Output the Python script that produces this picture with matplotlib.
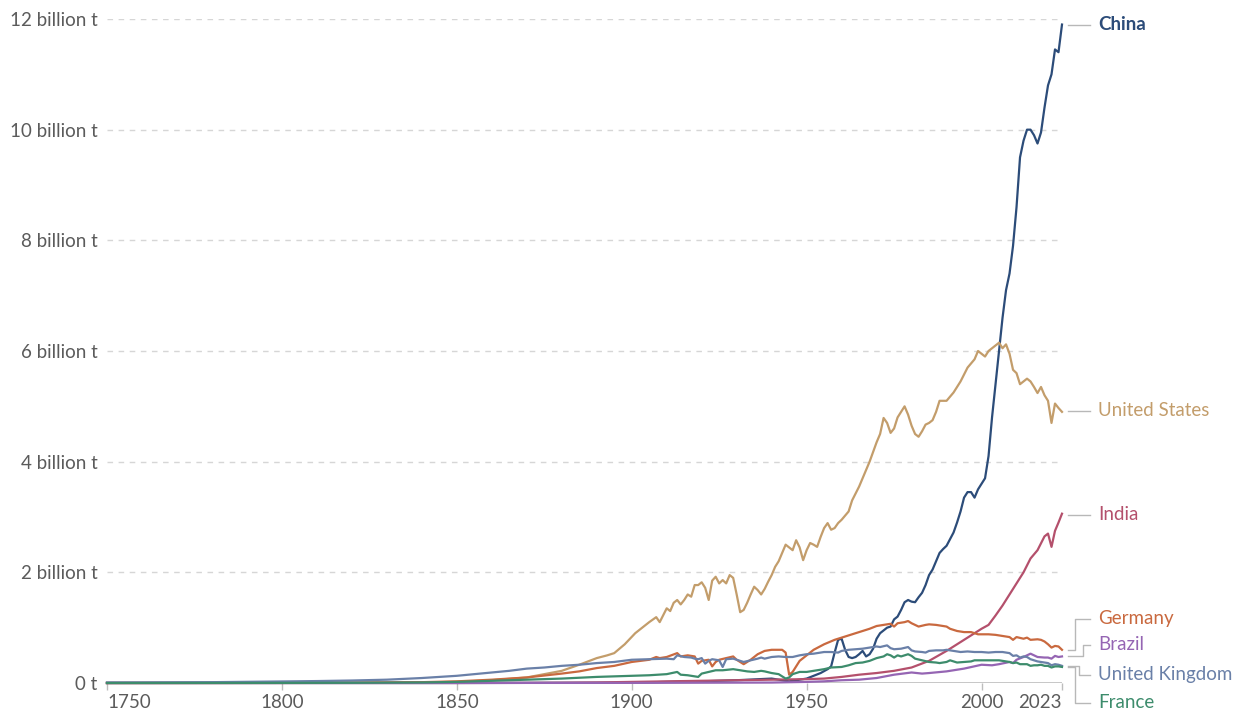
import matplotlib
matplotlib.use("Agg")
import matplotlib.pyplot as plt
import matplotlib.transforms as mtransforms

plt.rcParams['font.family'] = ['Lato', 'DejaVu Sans']

# --- data (billion tonnes CO2 per year) ---
china_years = [1750, 1850, 1900, 1910, 1920, 1930, 1940, 1945, 1950, 1952, 1954, 1956, 1957, 1958, 1959,
               1960, 1961, 1962, 1963, 1964, 1965, 1966, 1967, 1968, 1969, 1970, 1971, 1972, 1973, 1974,
               1975, 1976, 1977, 1978, 1979, 1980, 1981, 1982, 1983, 1984, 1985, 1986, 1987, 1988, 1989,
               1990, 1991, 1992, 1993, 1994, 1995, 1996, 1997, 1998, 1999, 2000, 2001, 2002, 2003, 2004,
               2005, 2006, 2007, 2008, 2009, 2010, 2011, 2012, 2013, 2014, 2015, 2016, 2017, 2018, 2019,
               2020, 2021, 2022, 2023]
china = [0, 0, 0.005, 0.02, 0.03, 0.05, 0.08, 0.03, 0.08, 0.13, 0.18, 0.25, 0.3, 0.55, 0.78,
         0.8, 0.6, 0.47, 0.45, 0.47, 0.52, 0.58, 0.48, 0.52, 0.62, 0.8, 0.9, 0.95, 1.0, 1.02,
         1.15, 1.2, 1.32, 1.46, 1.5, 1.47, 1.46, 1.55, 1.63, 1.77, 1.95, 2.05, 2.2, 2.35, 2.42,
         2.48, 2.6, 2.72, 2.9, 3.1, 3.35, 3.45, 3.45, 3.35, 3.5, 3.6, 3.7, 4.1, 4.8, 5.4,
         6.0, 6.6, 7.1, 7.4, 7.9, 8.6, 9.5, 9.8, 10.0, 10.0, 9.9, 9.75, 9.95, 10.4, 10.8,
         11.0, 11.45, 11.4, 11.9]

us_years = [1750, 1800, 1830, 1850, 1860, 1870, 1880, 1885, 1890, 1893, 1895, 1898, 1901, 1903, 1905,
            1907, 1908, 1910, 1911, 1912, 1913, 1914, 1915, 1916, 1917, 1918, 1919, 1920, 1921, 1922,
            1923, 1924, 1925, 1926, 1927, 1928, 1929, 1930, 1931, 1932, 1933, 1934, 1935, 1936, 1937,
            1938, 1939, 1940, 1941, 1942, 1943, 1944, 1945, 1946, 1947, 1948, 1949, 1950, 1951, 1952,
            1953, 1954, 1955, 1956, 1957, 1958, 1959, 1960, 1962, 1963, 1965, 1967, 1968, 1970, 1971,
            1972, 1973, 1974, 1975, 1976, 1977, 1978, 1979, 1980, 1981, 1982, 1983, 1984, 1985, 1986,
            1987, 1988, 1989, 1990, 1992, 1994, 1996, 1998, 1999, 2000, 2001, 2002, 2003, 2004, 2005,
            2006, 2007, 2008, 2009, 2010, 2011, 2012, 2013, 2014, 2015, 2016, 2017, 2018, 2019, 2020,
            2021, 2022, 2023]
us = [0, 0.001, 0.005, 0.02, 0.05, 0.1, 0.22, 0.33, 0.45, 0.5, 0.54, 0.7, 0.9, 1.0, 1.1,
      1.19, 1.1, 1.35, 1.3, 1.45, 1.5, 1.42, 1.5, 1.6, 1.56, 1.77, 1.77, 1.82, 1.72, 1.5,
      1.85, 1.92, 1.8, 1.86, 1.8, 1.95, 1.9, 1.6, 1.28, 1.32, 1.45, 1.6, 1.74, 1.68, 1.6,
      1.7, 1.83, 1.95, 2.1, 2.2, 2.35, 2.5, 2.45, 2.4, 2.58, 2.45, 2.22, 2.4, 2.53, 2.5,
      2.46, 2.64, 2.8, 2.89, 2.77, 2.8, 2.89, 2.95, 3.1, 3.3, 3.55, 3.85, 4.0, 4.35, 4.5,
      4.79, 4.7, 4.52, 4.6, 4.8, 4.9, 5.0, 4.85, 4.65, 4.5, 4.45, 4.55, 4.67, 4.7, 4.75,
      4.9, 5.1, 5.1, 5.1, 5.25, 5.45, 5.7, 5.85, 6.0, 5.95, 5.9, 6.0, 6.05, 6.1, 6.15,
      6.05, 6.12, 5.95, 5.66, 5.6, 5.4, 5.45, 5.5, 5.45, 5.35, 5.24, 5.35, 5.2, 5.1, 4.7,
      5.05, 4.97, 4.9]

india_years = [1750, 1850, 1870, 1880, 1890, 1900, 1910, 1920, 1930, 1940, 1950, 1955, 1960, 1965, 1970,
               1975, 1980, 1985, 1990, 1995, 2000, 2002, 2004, 2006, 2008, 2010, 2012, 2014, 2016, 2018,
               2019, 2020, 2021, 2022, 2023]
india = [0, 0, 0.002, 0.005, 0.01, 0.02, 0.03, 0.04, 0.05, 0.06, 0.07, 0.08, 0.11, 0.15, 0.18,
         0.22, 0.28, 0.4, 0.58, 0.78, 0.98, 1.05, 1.22, 1.4, 1.6, 1.8, 2.0, 2.25, 2.4, 2.65,
         2.7, 2.46, 2.75, 2.9, 3.06]

germany_years = [1750, 1800, 1820, 1840, 1850, 1860, 1870, 1880, 1885, 1890, 1895, 1900, 1905, 1907, 1908,
                 1910, 1913, 1914, 1916, 1918, 1919, 1920, 1922, 1923, 1924, 1925, 1927, 1929, 1930, 1932,
                 1934, 1936, 1938, 1940, 1942, 1943, 1944, 1945, 1946, 1947, 1948, 1950, 1952, 1955, 1958,
                 1960, 1963, 1965, 1968, 1970, 1972, 1974, 1975, 1976, 1978, 1979, 1980, 1982, 1984, 1985,
                 1987, 1989, 1990, 1991, 1993, 1995, 1997, 1999, 2000, 2002, 2004, 2006, 2008, 2009, 2010,
                 2012, 2013, 2014, 2016, 2017, 2018, 2019, 2020, 2021, 2022, 2023]
germany = [0, 0.002, 0.005, 0.015, 0.03, 0.06, 0.1, 0.17, 0.21, 0.27, 0.31, 0.38, 0.42, 0.47, 0.45,
           0.47, 0.54, 0.48, 0.5, 0.48, 0.35, 0.4, 0.42, 0.3, 0.38, 0.42, 0.45, 0.48, 0.42, 0.34,
           0.42, 0.52, 0.58, 0.6, 0.6, 0.6, 0.55, 0.15, 0.2, 0.3, 0.4, 0.5, 0.6, 0.7, 0.78,
           0.82, 0.88, 0.92, 0.98, 1.03, 1.05, 1.07, 1.02, 1.08, 1.1, 1.12, 1.08, 1.02, 1.05, 1.06,
           1.05, 1.03, 1.02, 0.98, 0.94, 0.92, 0.92, 0.88, 0.88, 0.88, 0.87, 0.85, 0.83, 0.78, 0.83,
           0.8, 0.82, 0.78, 0.79, 0.78, 0.75, 0.7, 0.64, 0.67, 0.66, 0.6]

brazil_years = [1750, 1900, 1920, 1940, 1950, 1955, 1960, 1965, 1970, 1975, 1980, 1983, 1985, 1990, 1995,
                2000, 2003, 2005, 2008, 2009, 2010, 2012, 2014, 2016, 2018, 2019, 2020, 2021, 2022, 2023]
brazil = [0, 0.002, 0.005, 0.008, 0.02, 0.03, 0.05, 0.06, 0.09, 0.15, 0.19, 0.17, 0.18, 0.21, 0.26,
          0.33, 0.32, 0.34, 0.38, 0.36, 0.42, 0.47, 0.53, 0.47, 0.46, 0.46, 0.44, 0.49, 0.47, 0.48]

uk_years = [1750, 1760, 1780, 1800, 1810, 1820, 1830, 1840, 1850, 1855, 1860, 1865, 1870, 1875, 1880,
            1885, 1890, 1895, 1900, 1905, 1910, 1912, 1913, 1915, 1917, 1918, 1919, 1920, 1921, 1922,
            1923, 1924, 1925, 1926, 1927, 1929, 1930, 1931, 1932, 1934, 1936, 1937, 1938, 1940, 1942,
            1944, 1946, 1948, 1950, 1952, 1955, 1957, 1959, 1960, 1962, 1964, 1966, 1968, 1970, 1971,
            1973, 1974, 1975, 1977, 1979, 1980, 1981, 1983, 1984, 1985, 1987, 1989, 1990, 1992, 1994,
            1996, 1998, 2000, 2002, 2004, 2006, 2008, 2009, 2010, 2011, 2012, 2013, 2014, 2015, 2016,
            2017, 2018, 2019, 2020, 2021, 2022, 2023]
uk = [0.009, 0.01, 0.015, 0.028, 0.035, 0.045, 0.06, 0.09, 0.13, 0.16, 0.19, 0.22, 0.26, 0.28, 0.31,
      0.33, 0.36, 0.38, 0.42, 0.43, 0.44, 0.43, 0.5, 0.47, 0.46, 0.44, 0.43, 0.45, 0.35, 0.4,
      0.43, 0.42, 0.41, 0.29, 0.43, 0.44, 0.42, 0.4, 0.38, 0.41, 0.44, 0.46, 0.44, 0.47, 0.48,
      0.47, 0.47, 0.5, 0.52, 0.53, 0.56, 0.56, 0.55, 0.58, 0.6, 0.61, 0.62, 0.64, 0.66, 0.65,
      0.68, 0.63, 0.61, 0.62, 0.65, 0.59, 0.57, 0.56, 0.55, 0.58, 0.59, 0.59, 0.6, 0.58, 0.56,
      0.57, 0.56, 0.56, 0.55, 0.56, 0.56, 0.54, 0.49, 0.5, 0.46, 0.48, 0.47, 0.43, 0.41, 0.39,
      0.38, 0.37, 0.36, 0.32, 0.34, 0.33, 0.31]

france_years = [1750, 1800, 1820, 1840, 1850, 1860, 1870, 1880, 1890, 1900, 1905, 1910, 1913, 1914, 1916,
                1918, 1919, 1920, 1922, 1924, 1926, 1929, 1931, 1933, 1935, 1937, 1938, 1940, 1942, 1944,
                1945, 1946, 1948, 1950, 1952, 1955, 1957, 1960, 1962, 1964, 1966, 1968, 1970, 1972, 1973,
                1974, 1975, 1976, 1977, 1978, 1979, 1980, 1981, 1983, 1985, 1987, 1988, 1990, 1991, 1993,
                1995, 1997, 1998, 2000, 2002, 2004, 2005, 2007, 2008, 2009, 2010, 2011, 2012, 2013, 2014,
                2015, 2016, 2017, 2018, 2019, 2020, 2021, 2022, 2023]
france = [0, 0.002, 0.004, 0.01, 0.02, 0.04, 0.06, 0.08, 0.11, 0.13, 0.14, 0.16, 0.2, 0.15, 0.14,
          0.12, 0.11, 0.17, 0.2, 0.23, 0.23, 0.25, 0.23, 0.21, 0.2, 0.22, 0.21, 0.18, 0.16, 0.08,
          0.1, 0.16, 0.2, 0.2, 0.22, 0.25, 0.28, 0.29, 0.32, 0.36, 0.37, 0.4, 0.45, 0.48, 0.52,
          0.5, 0.46, 0.5, 0.48, 0.5, 0.52, 0.49, 0.44, 0.41, 0.38, 0.37, 0.36, 0.38, 0.41, 0.37,
          0.38, 0.39, 0.41, 0.41, 0.41, 0.41, 0.41, 0.39, 0.38, 0.36, 0.37, 0.34, 0.34, 0.34, 0.31,
          0.32, 0.32, 0.33, 0.31, 0.31, 0.28, 0.3, 0.3, 0.29]

y_ticks = [0, 2, 4, 6, 8, 10, 12]
y_labels = ['0 t', '2 billion t', '4 billion t', '6 billion t', '8 billion t', '10 billion t', '12 billion t']
x_ticks = [1750, 1800, 1850, 1900, 1950, 2000, 2023]

# country, years, values, line colour, label y (data units)
series = [
    ('China', china_years, china, '#2c4c79', 11.9),
    ('United States', us_years, us, '#c39d6b', 4.92),
    ('India', india_years, india, '#b4506c', 3.04),
    ('Germany', germany_years, germany, '#c9693f', 1.16),
    ('Brazil', brazil_years, brazil, '#9565b3', 0.69),
    ('United Kingdom', uk_years, uk, '#6a80a8', 0.15),
    ('France', france_years, france, '#3d8c6c', -0.36),
]
# elbow x (axes fraction) for labels that had to be moved off their line end
elbow_x = {'Germany': 1.0136, 'Brazil': 1.022, 'United Kingdom': 1.018, 'France': 1.0136}

fig = plt.figure(figsize=(12.46, 7.13), dpi=100)
ax = fig.add_axes([107 / 1246, 30 / 713, 955 / 1246, 664 / 713])

for name, yrs, vals, col, ly in series:
    ax.plot(yrs, vals, color=col, lw=1.6, clip_on=False, zorder=3)

ax.set_xlim(1750, 2023)
ax.set_ylim(0, 12)

# grid
for t in y_ticks[1:]:
    ax.axhline(t, color='#d6d6d6', lw=1, ls=(0, (4, 4)), zorder=1, xmax=0.995)
ax.axhline(0, color='#bdbdbd', lw=1.2, zorder=2)

for s in ax.spines.values():
    s.set_visible(False)

ax.set_yticks(y_ticks)
ax.set_yticklabels(y_labels)
ax.tick_params(axis='y', length=0, pad=7, labelsize=13.5, labelcolor='#5b5b5b')
ax.set_xticks(x_ticks)
ax.set_xticklabels([str(x) for x in x_ticks])
ax.tick_params(axis='x', length=5, width=1, color='#bdbdbd', pad=3, labelsize=13.5, labelcolor='#5b5b5b')
xl = ax.get_xticklabels()
xl[0].set_horizontalalignment('left')
xl[-1].set_horizontalalignment('right')

# end labels with connectors
trans = mtransforms.blended_transform_factory(ax.transAxes, ax.transData)
for name, yrs, vals, col, ly in series:
    end = vals[-1]
    if name in elbow_x:
        ex = elbow_x[name]
        ax.plot([1.0063, ex, ex, 1.0293], [end, end, ly, ly], transform=trans,
                color='#b8b8b8', lw=1, clip_on=False)
    else:
        ax.plot([1.0063, 1.0293], [ly, ly], transform=trans, color='#b8b8b8', lw=1, clip_on=False)
    ax.text(1.0377, ly, name, transform=trans, color=col, fontsize=13.5,
            va='center', ha='left', fontweight='bold' if name == 'China' else 'normal')

fig.savefig('out.png', dpi=100)
